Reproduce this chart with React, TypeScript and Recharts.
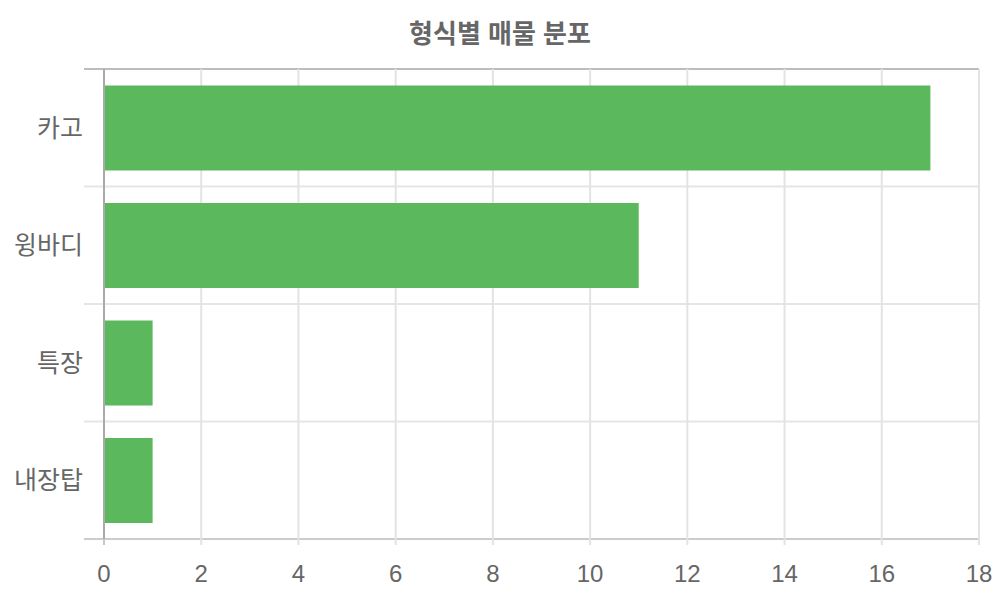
import { BarChart, Bar, XAxis, YAxis, CartesianGrid } from "recharts";

const categories = ["카고", "윙바디", "특장", "내장탑"];
const counts = [17, 11, 1, 1];
const xTicks = [0, 2, 4, 6, 8, 10, 12, 14, 16, 18];

const data = categories.map((name, i) => ({ name, count: counts[i] }));

const FONT = "'Liberation Sans', 'Noto Sans CJK KR', sans-serif";
const W = 1000;
const H = 600;
const TOP = 69;
const RIGHT = 21;
const LEFT = 104;
const BOTTOM = 61;
const PLOT_H = H - TOP - BOTTOM;

export default function App() {
  return (
    <div style={{ position: "absolute", left: 0, top: 0, width: W, height: H, background: "#fff", fontFamily: FONT }}>
      <div
        style={{
          position: "absolute",
          top: 21,
          left: 0,
          width: W,
          textAlign: "center",
          fontSize: 26,
          lineHeight: "26px",
          fontWeight: "bold",
          color: "#666",
        }}
      >
        형식별 매물 분포
      </div>
      <BarChart
        width={W}
        height={H}
        data={data}
        layout="vertical"
        margin={{ top: TOP, right: RIGHT, bottom: 0, left: 0 }}
        barCategoryGap="14%"
      >
        {/* category boundaries, extended 20px left like tick marks */}
        <CartesianGrid
          vertical={false}
          x={LEFT - 20}
          width={W - RIGHT - LEFT + 20}
          horizontalCoordinatesGenerator={({ offset }: any) =>
            categories.concat([""]).map((_, i) => offset.top + (i * offset.height) / categories.length)
          }
          horizontal={(p: any) => (
            <line
              key={`h-${p.index}`}
              x1={p.x1}
              y1={p.y1}
              x2={p.x2}
              y2={p.y2}
              stroke={p.index === 0 ? "#bdbdbd" : p.index === categories.length ? "#cccccc" : "#e5e5e5"}
              strokeWidth={2}
            />
          )}
        />
        <CartesianGrid
          horizontal={false}
          y={TOP}
          height={PLOT_H + 6}
          vertical={(p: any) => (
            <line
              key={`v-${p.index}`}
              x1={p.x1}
              y1={p.y1}
              x2={p.x2}
              y2={p.y2}
              stroke={p.index === 0 ? "#c8c8c8" : "#e3e3e3"}
              strokeWidth={2}
            />
          )}
        />
        <XAxis
          type="number"
          domain={[0, 18]}
          ticks={xTicks}
          height={BOTTOM}
          axisLine={false}
          tickLine={false}
          tickSize={0}
          tickMargin={26}
          tick={{ fill: "#666", fontSize: 24, fontFamily: FONT }}
          interval={0}
        />
        <YAxis
          type="category"
          dataKey="name"
          width={LEFT}
          axisLine={{ stroke: "#aaaaaa", strokeWidth: 2 }}
          tickLine={false}
          tickSize={0}
          tickMargin={21}
          tick={{ fill: "#666", fontSize: 25, fontFamily: FONT }}
        />
        <Bar dataKey="count" fill="#5cb85c" isAnimationActive={false} />
      </BarChart>
    </div>
  );
}
